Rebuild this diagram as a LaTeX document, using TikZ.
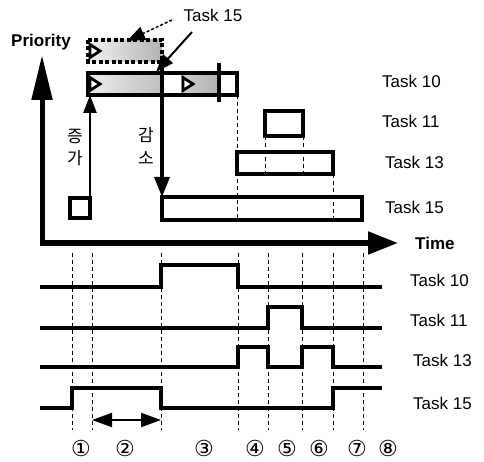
\documentclass[tikz,border=0pt]{standalone}
\usepackage{fontspec}
\setmainfont{Liberation Sans}
\newfontfamily\kofont{Noto Sans CJK KR}
\newfontfamily\symfont{DejaVu Sans}
\usetikzlibrary{arrows.meta}
\begin{document}
\begin{tikzpicture}[x=1pt,y=-1pt,
  lbl/.style={font=\fontsize{17}{20}\selectfont, inner sep=0pt},
  blbl/.style={font=\fontsize{17}{20}\selectfont\bfseries, inner sep=0pt},
  kor/.style={font=\fontsize{17}{19}\selectfont\kofont, inner sep=0pt},
  num/.style={font=\fontsize{22}{22}\selectfont\symfont, inner sep=0pt},
  boxl/.style={line width=3.2pt, line join=miter},
  sig/.style={line width=4pt, line join=miter},
  guide/.style={line width=1pt, dash pattern=on 4pt off 3pt},
  chev/.style={line width=2.8pt, fill=white, line join=miter}
]
\useasboundingbox (0,0) rectangle (484,462);

% axes
\draw[line width=5pt, line join=miter, {Triangle[length=45pt,width=20pt]}-{Triangle[length=30pt,width=22pt]}] (42,55) -- (42,243) -- (398,243);
\node[blbl] (prio) at (41,42) {Priority};
\node[blbl, anchor=west] (time) at (415,243) {Time};

% ghost box (raised Task 15)
\shade[left color=gray!10, right color=gray!60] (88,40) rectangle (162,62);
\draw[boxl, dash pattern=on 4pt off 2.5pt] (88,40) rectangle (162,62);
\draw[chev] (90,44.5) -- (100,51) -- (90,57.5) -- cycle;

% Task 10 row
\shade[left color=gray!15, right color=gray!50] (88,73) rectangle (162,95);
\shade[left color=gray!40, right color=gray!60] (181,73) rectangle (219,95);
\draw[boxl] (88,73) rectangle (237,95);
\draw[chev] (90,77.5) -- (100,84) -- (90,90.5) -- cycle;
\draw[chev] (183,77.5) -- (193,84) -- (183,90.5) -- cycle;
\draw[line width=4pt] (219,63) -- (219,102);

% boxes
\draw[boxl] (70,198) rectangle (90,218);
\draw[boxl] (265,111) rectangle (303,136);
\draw[boxl] (237,152) rectangle (333,174);
\draw[boxl] (162,197) rectangle (362,220);

% coordinates for arrows
\coordinate (upbot) at (90,198);
\coordinate (uptop) at (90,95);
\coordinate (dntop) at (162,58);
\coordinate (dnbot) at (162,197);
\coordinate (ghosttip) at (127,41);
\coordinate (rowtip) at (156,72);

% increase / decrease arrows
\draw[line width=2.5pt, -{Triangle[length=18pt,width=13pt]}] (upbot) -- (uptop);
\draw[line width=3.5pt, -{Triangle[length=20pt,width=15pt]}] (dntop) -- (dnbot);
\node[kor] (z1) at (75,137) {증};
\node[kor] (z2) at (75,158) {가};
\node[kor] (g1) at (146,135) {감};
\node[kor] (g2) at (146,158) {소};

% Task 15 callout
\node[lbl] (t15top) at (213,15) {Task 15};
\draw[line width=1.5pt, dash pattern=on 3pt off 2pt, -{Triangle[length=18pt,width=14pt]}] (172,20) -- (ghosttip);
\draw[line width=2pt, -{Triangle[length=18pt,width=13pt]}] (192,32) -- (rowtip);

% upper guides
\draw[guide] (237,95) -- (237,220);
\draw[guide] (265,136) -- (265,174);
\draw[guide] (303,136) -- (303,174);
\draw[guide] (333,174) -- (333,220);

% upper labels
\node[lbl, anchor=west] (u10) at (382,81) {Task 10};
\node[lbl, anchor=west] (u11) at (382,121) {Task 11};
\node[lbl, anchor=west] (u13) at (385,162) {Task 13};
\node[lbl, anchor=west] (u15) at (385,207) {Task 15};

% lower guides
\foreach \xx in {72,92,161,238,268,302,333,363} {
  \draw[guide] (\xx,253) -- (\xx,430);
}

% signals
\draw[sig] (40,287) -- (161,287) -- (161,265) -- (238,265) -- (238,287) -- (382,287);
\draw[sig] (40,328) -- (268,328) -- (268,307) -- (302,307) -- (302,328) -- (382,328);
\draw[sig] (40,367) -- (238,367) -- (238,347) -- (268,347) -- (268,367) -- (302,367) -- (302,347) -- (333,347) -- (333,367) -- (382,367);
\draw[sig] (40,408) -- (72,408) -- (72,388) -- (161,388) -- (161,408) -- (333,408) -- (333,388) -- (382,388);

% interval arrow
\coordinate (iva) at (92,420);
\coordinate (ivb) at (161,420);
\draw[line width=2pt, {Triangle[length=20pt,width=14pt]}-{Triangle[length=20pt,width=14pt]}] (iva) -- (ivb);

% lower labels
\node[lbl, anchor=west] (l10) at (410,280) {Task 10};
\node[lbl, anchor=west] (l11) at (410,320) {Task 11};
\node[lbl, anchor=west] (l13) at (413,360) {Task 13};
\node[lbl, anchor=west] (l15) at (413,403) {Task 15};

% circled numbers
\node[num] (n1) at (81,448) {①};
\node[num] (n2) at (125,448) {②};
\node[num] (n3) at (204,448) {③};
\node[num] (n4) at (255,448) {④};
\node[num] (n5) at (287,448) {⑤};
\node[num] (n6) at (319,448) {⑥};
\node[num] (n7) at (357,448) {⑦};
\node[num] (n8) at (388,448) {⑧};
\end{tikzpicture}
\end{document}
